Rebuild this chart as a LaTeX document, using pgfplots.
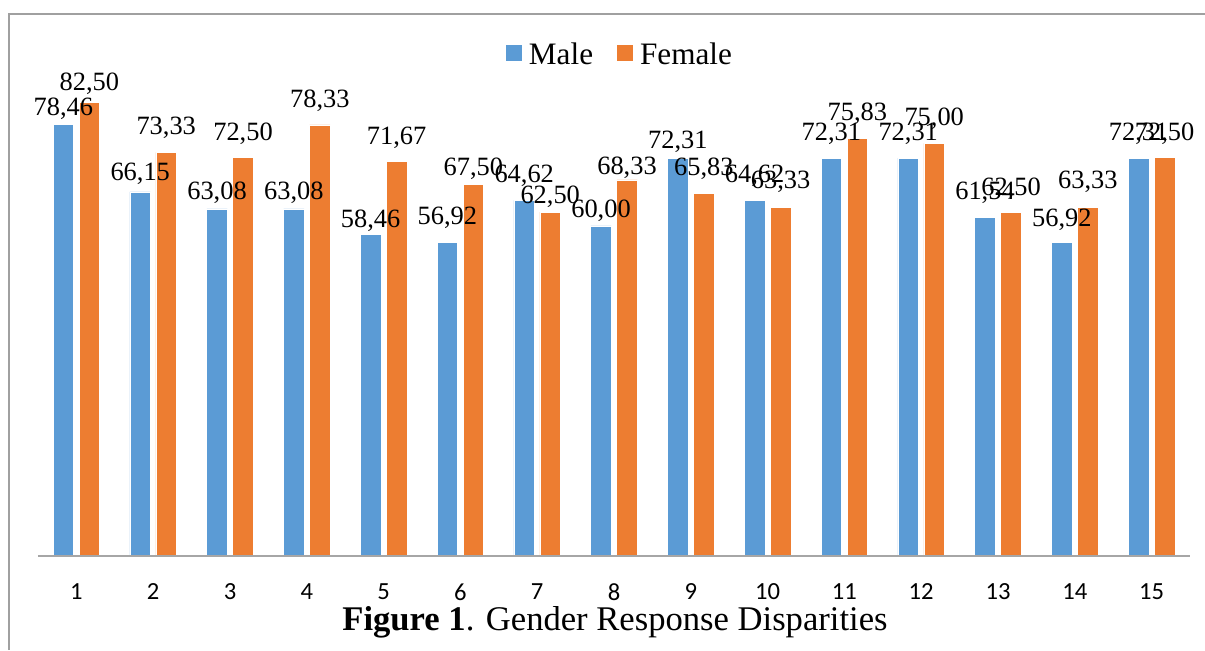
\documentclass[border=0pt]{standalone}
\usepackage{fontspec}
\setmainfont{Liberation Serif}
\newfontfamily\carlito{Carlito}
\usepackage{pgfplots}
\usepackage{pgfplotstable}
\pgfplotsset{compat=1.18}
\definecolor{mblue}{HTML}{5B9BD5}
\definecolor{forange}{HTML}{ED7D31}
\definecolor{framegray}{HTML}{A0A0A0}
\definecolor{axgray}{HTML}{A6A6A6}

\pgfplotstableread{
x m f mg fg
1 78.46 82.50 4.5 6.0
2 66.15 73.33 5.5 9.0
3 63.08 72.50 4.5 8.5
4 63.08 78.33 4.5 8.5
5 58.46 71.67 3.5 8.5
6 56.92 67.50 9.0 4.5
7 64.62 62.50 9.0 4.5
8 60.00 68.33 4.0 2.5
9 72.31 65.83 5.0 9.0
10 64.62 63.33 9.0 9.5
11 72.31 75.83 9.0 9.0
12 72.31 75.00 9.0 9.0
13 61.54 62.50 9.0 8.5
14 56.92 63.33 8.0 9.5
15 72.31 72.50 9.0 8.5
}\data

\begin{document}
\begin{tikzpicture}
\path[use as bounding box] (0,0) rectangle (602.5pt,325pt);
\draw[framegray, line width=0.75pt] (4.5pt,0) -- (4.5pt,318pt) -- (602.5pt,318pt);
\begin{axis}[
  at={(19pt,47pt)}, anchor=south west,
  scale only axis, width=576pt, height=275.15pt,
  xmin=0.5, xmax=15.5, ymin=0, ymax=100,
  ybar=2.75pt, bar width=10.25pt,
  axis on top,
  axis x line=bottom, axis y line=none,
  x axis line style={-, draw=axgray, line width=0.75pt},
  xtick={1,...,15},
  xticklabels={1,2,3,4,5,6,7,8,9,10,11,12,13,14,15},
  major tick length=0pt,
  xtick style={draw=none},
  xticklabel style={font=\carlito\fontsize{12.3}{12.3}\selectfont, anchor=center, yshift=-18pt},
  ytick=\empty,
  clip=false,
  /pgf/number format/assume math mode=true,
  /pgf/number format/.cd, fixed, fixed zerofill, precision=2, use comma, /pgfplots/.cd,
  nodes near coords,
  legend columns=2,
  legend style={at={(rel axis cs:0.5043,0.9104)}, anchor=center, draw=none, fill=none,
    font=\fontsize{15.6}{15.6}\selectfont,
    nodes={inner sep=0pt},
    /tikz/every odd column/.append style={column sep=3.5pt},
    /tikz/every even column/.append style={column sep=12pt}},
  legend image code/.code={\path[#1, draw=none] (0pt,-3pt) rectangle (8pt,5pt);},
]
\addplot[fill=mblue, draw=white, line width=0.3pt,
  visualization depends on=\thisrow{mg} \as \gap,
  every node near coord/.append style={anchor=base, inner sep=0pt, yshift=\gap*1pt,
     font=\fontsize{13.2}{13.2}\selectfont, text=black}]
  table[x=x, y=m] {\data};
\addlegendentry{Male}
\addplot[fill=forange, draw=white, line width=0.3pt,
  visualization depends on=\thisrow{fg} \as \gap,
  every node near coord/.append style={anchor=base, inner sep=0pt, yshift=\gap*1pt,
     font=\fontsize{13.2}{13.2}\selectfont, text=black}]
  table[x=x, y=f] {\data};
\addlegendentry{Female}
\end{axis}
\node[anchor=base, font=\fontsize{17.3}{17.3}\selectfont] at (307.5pt,10pt)
  {\textbf{Figure 1}. Gender Response Disparities};
\end{tikzpicture}
\end{document}
